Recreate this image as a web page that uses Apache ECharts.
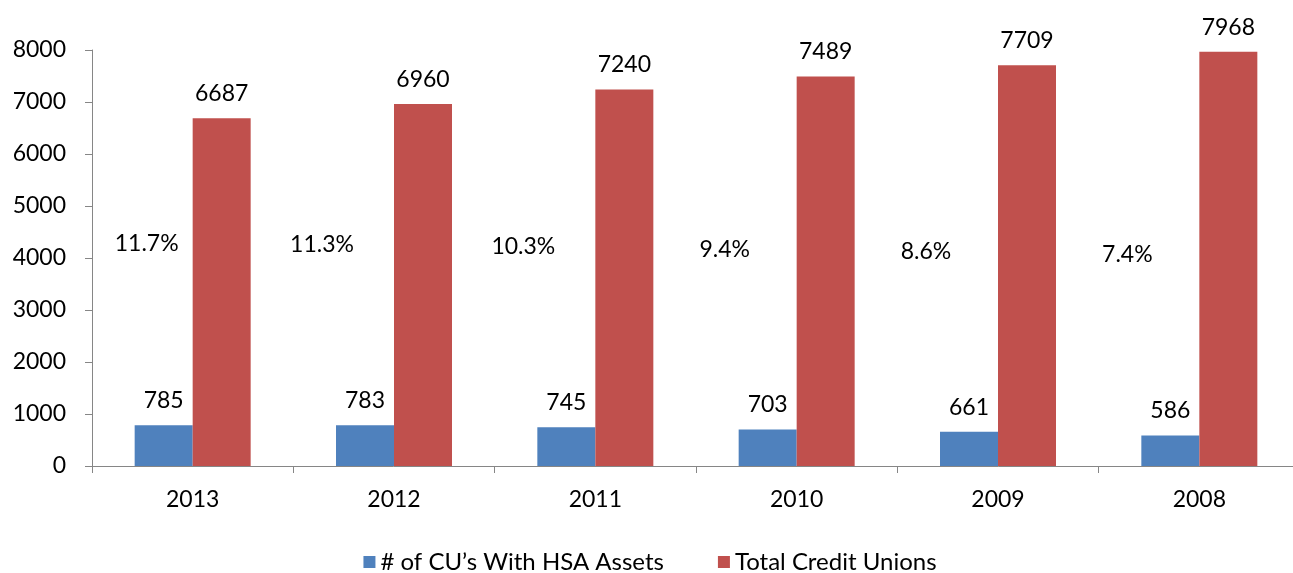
<!DOCTYPE html>
<html>
<head>
<meta charset="utf-8">
<script src="https://cdn.jsdelivr.net/npm/echarts@6/dist/echarts.min.js"></script>
<style>
  html, body { margin: 0; padding: 0; background: #fff; overflow: hidden; }
  #chart { width: 1300px; height: 573px; }
</style>
</head>
<body>
<div id="chart"></div>
<script>
var years = ['2013', '2012', '2011', '2010', '2009', '2008'];
var hsaCUs = [785, 783, 745, 703, 661, 586];
var totalCUs = [6687, 6960, 7240, 7489, 7709, 7968];
var yTicks = { min: 0, max: 8000, interval: 1000 };

// share of credit unions with HSA assets, in percent
var shares = hsaCUs.map(function (v, i) {
    return Math.round(v / totalCUs[i] * 1000) / 10;
});

var chart = echarts.init(document.getElementById('chart'));
var font = 'Lato, "Open Sans", sans-serif';
var fs = 23;

var option = {
    animation: false,
    grid: { left: 92, top: 50, right: 0, bottom: 107 },
    legend: {
        data: ['# of CU\u2019s With HSA Assets', 'Total Credit Unions'],
        top: 545,
        left: 'center',
        icon: 'rect',
        itemWidth: 12,
        itemHeight: 12,
        itemGap: 54,
        textStyle: { fontFamily: font, fontSize: 24, color: '#000' }
    },
    xAxis: {
        type: 'category',
        data: years,
        axisLine: { lineStyle: { color: '#868686' } },
        axisTick: { show: true, length: 7, lineStyle: { color: '#868686' } },
        axisLabel: { fontFamily: font, fontSize: fs, color: '#000', margin: 22 }
    },
    yAxis: [{
        type: 'value',
        min: yTicks.min,
        max: yTicks.max,
        interval: yTicks.interval,
        splitLine: { show: false },
        axisLine: { show: true, lineStyle: { color: '#868686' } },
        axisTick: { show: true, length: 7, lineStyle: { color: '#868686' } },
        axisLabel: {
            fontFamily: font, fontSize: fs, color: '#000', margin: 26,
            formatter: function (v) { return String(v); }
        }
    }, {
        type: 'value',
        show: false,
        min: -75,
        max: 87
    }],
    series: [{
        name: '# of CU\u2019s With HSA Assets',
        type: 'bar',
        data: hsaCUs,
        barWidth: 58,
        barGap: '0%',
        itemStyle: { color: '#4F81BD' },
        label: { show: true, position: 'top', distance: 13, fontFamily: font, fontSize: fs, color: '#000' }
    }, {
        name: 'Total Credit Unions',
        type: 'bar',
        data: totalCUs,
        barWidth: 58,
        itemStyle: { color: '#C0504D' },
        label: { show: true, position: 'top', distance: 13, fontFamily: font, fontSize: fs, color: '#000' }
    }, {
        name: 'share',
        type: 'scatter',
        yAxisIndex: 1,
        symbolSize: 0,
        silent: true,
        itemStyle: { color: '#000', opacity: 1 },
        data: shares.map(function (v, i) {
            return {
                value: v,
                label: { offset: [i === 0 ? -46 : -72, 0] }
            };
        }),
        label: {
            show: true,
            position: 'inside',
            fontFamily: font,
            fontSize: fs,
            color: '#000',
            formatter: function (p) { return p.value.toFixed(1) + '%'; }
        }
    }]
};

chart.setOption(option);
</script>
</body>
</html>
